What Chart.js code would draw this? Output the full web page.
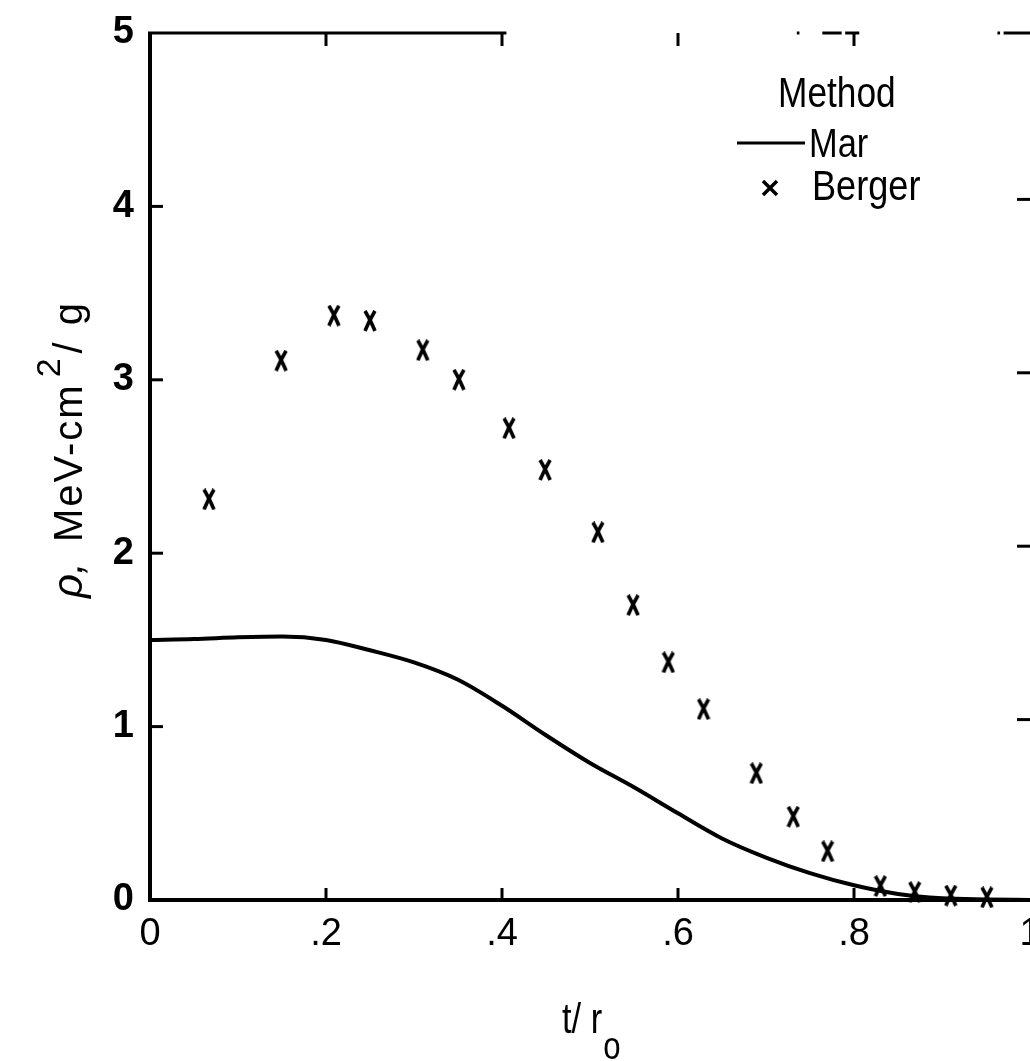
<!DOCTYPE html>
<html>
<head>
<meta charset="utf-8">
<script src="https://cdn.jsdelivr.net/npm/chart.js@4/dist/chart.umd.min.js"></script>
<style>
  html, body { margin: 0; padding: 0; background: #fff; }
  #c { display: block; }
</style>
</head>
<body>
<canvas id="c" width="1030" height="1061"></canvas>
<script>
// ---------------- DATA ----------------
const xTickValues = [0, 0.2, 0.4, 0.6, 0.8, 1];
const xTickLabels = ['0', '.2', '.4', '.6', '.8', '1'];
const yTickValues = [0, 1, 2, 3, 4, 5];
const yTickLabels = ['0', '1', '2', '3', '4', '5'];

const seriesNames = ['Mar', 'Berger'];
const legendTitle = 'Method';

// Mar (solid curve)
const marT   = [0, 0.05, 0.1, 0.15, 0.2, 0.25, 0.3, 0.35, 0.4, 0.45, 0.5, 0.55, 0.6, 0.65, 0.7, 0.75, 0.8, 0.85, 0.9, 0.95, 1.0];
const marRho = [1.50, 1.505, 1.515, 1.52, 1.50, 1.44, 1.37, 1.27, 1.12, 0.95, 0.79, 0.65, 0.50, 0.355, 0.245, 0.155, 0.085, 0.035, 0.01, 0.003, 0];

// Berger (x markers)
const bergerT   = [0.067, 0.149, 0.209, 0.25, 0.31, 0.351, 0.408, 0.449, 0.509, 0.549, 0.589, 0.629, 0.689, 0.731, 0.770, 0.83, 0.869, 0.91, 0.951];
const bergerRho = [2.31, 3.11, 3.37, 3.34, 3.17, 3.00, 2.72, 2.48, 2.12, 1.70, 1.37, 1.10, 0.73, 0.48, 0.28, 0.08, 0.045, 0.025, 0.015];

const xTitleMain = 't/ r';
const xTitleSub = 'o';
const yTitleRho = 'ρ,';
const yTitleUnit = 'MeV-cm';
const yTitleSup = '2';
const yTitleTail = '/ g';

// ---------------- STYLE ----------------
const SANS = '"Liberation Sans", Arial, sans-serif';

// Letter-like X marker used for the Berger points
function makeXMarker(w, h, lw) {
  const c = document.createElement('canvas');
  c.width = w; c.height = h;
  const g = c.getContext('2d');
  g.strokeStyle = '#000';
  g.lineWidth = lw;
  g.lineCap = 'butt';
  g.beginPath();
  g.moveTo(2, 1); g.quadraticCurveTo(w / 2 + 1, h / 2, w - 2, h - 1);
  g.moveTo(w - 2, 1); g.quadraticCurveTo(w / 2 - 1, h / 2, 2, h - 1);
  g.stroke();
  return c;
}
const xMarker = makeXMarker(14, 22, 3.6);

// condensed text helper (horizontal squeeze, still real text)
function condText(ctx, txt, x, y, size, sx) {
  ctx.save();
  ctx.translate(x, y);
  ctx.scale(sx, 1);
  ctx.font = size + 'px ' + SANS;
  ctx.fillText(txt, 0, 0);
  const w = ctx.measureText(txt).width * sx;
  ctx.restore();
  return w;
}

const framePlugin = {
  id: 'frame',
  afterDraw(chart) {
    const { ctx, chartArea: a, scales: { x, y } } = chart;
    ctx.save();
    ctx.strokeStyle = '#000';
    ctx.fillStyle = '#000';
    ctx.lineCap = 'butt';

    // left axis
    ctx.lineWidth = 4;
    ctx.beginPath(); ctx.moveTo(a.left, a.top - 1); ctx.lineTo(a.left, a.bottom + 2); ctx.stroke();
    // bottom axis
    ctx.beginPath(); ctx.moveTo(a.left - 2, a.bottom); ctx.lineTo(a.right, a.bottom); ctx.stroke();

    // top border (only partially printed in the original)
    ctx.lineWidth = 3;
    const topSegs = [[0, 0.405], [0.735, 0.738], [0.764, 0.786], [0.790, 0.806], [0.963, 0.966], [0.970, 1.0]];
    topSegs.forEach(([s, e]) => {
      ctx.beginPath();
      ctx.moveTo(x.getPixelForValue(s) - (s === 0 ? 2 : 0), a.top);
      ctx.lineTo(x.getPixelForValue(e), a.top);
      ctx.stroke();
    });

    // inward ticks
    ctx.lineWidth = 3;
    xTickValues.slice(1, -1).forEach(v => {
      const px = x.getPixelForValue(v);
      ctx.beginPath(); ctx.moveTo(px, a.bottom); ctx.lineTo(px, a.bottom - 12); ctx.stroke();
      ctx.beginPath(); ctx.moveTo(px, a.top); ctx.lineTo(px, a.top + 13); ctx.stroke();
    });
    yTickValues.slice(1, -1).forEach(v => {
      const py = y.getPixelForValue(v);
      ctx.beginPath(); ctx.moveTo(a.left, py); ctx.lineTo(a.left + 13, py); ctx.stroke();
      ctx.beginPath(); ctx.moveTo(a.right, py - 7); ctx.lineTo(a.right - 13, py - 7); ctx.stroke();
    });

    // ---- legend ----
    ctx.textBaseline = 'alphabetic';
    ctx.textAlign = 'left';
    condText(ctx, legendTitle, 778, 107, 42, 0.84);
    // Mar entry
    ctx.lineWidth = 3;
    ctx.beginPath(); ctx.moveTo(737, 143); ctx.lineTo(805, 143); ctx.stroke();
    condText(ctx, seriesNames[0], 809, 157, 40, 0.86);
    // Berger entry
    ctx.lineWidth = 3.5;
    ctx.beginPath();
    ctx.moveTo(763, 181); ctx.lineTo(777, 195);
    ctx.moveTo(777, 181); ctx.lineTo(763, 195);
    ctx.stroke();
    condText(ctx, seriesNames[1], 812, 200, 42, 0.86);

    // ---- x title ----
    const w = condText(ctx, xTitleMain, 562, 1033, 42, 0.82);
    condText(ctx, xTitleSub, 562 + w + 1, 1059, 38, 0.82);

    // ---- y title (rotated) ----
    ctx.translate(82, 0);
    ctx.rotate(-Math.PI / 2);
    ctx.font = 'italic 42px ' + SANS;
    ctx.fillText(yTitleRho, -598, 0);
    let u = -542;
    ctx.font = '40px ' + SANS;
    if ('letterSpacing' in ctx) ctx.letterSpacing = '2px';
    ctx.fillText(yTitleUnit, u, 0);
    u += ctx.measureText(yTitleUnit).width + 6;
    if ('letterSpacing' in ctx) ctx.letterSpacing = '0px';
    ctx.font = '34px ' + SANS;
    ctx.fillText(yTitleSup, u, -22);
    u += ctx.measureText(yTitleSup).width + 5;
    ctx.font = '40px ' + SANS;
    if ('letterSpacing' in ctx) ctx.letterSpacing = '3px';
    ctx.fillText(yTitleTail, u, 0);

    ctx.restore();
  }
};

new Chart(document.getElementById('c').getContext('2d'), {
  type: 'scatter',
  data: {
    datasets: [
      {
        label: seriesNames[0],
        data: marT.map((t, i) => ({ x: t, y: marRho[i] })),
        showLine: true,
        borderColor: '#000',
        borderWidth: 4,
        pointRadius: 0,
        cubicInterpolationMode: 'monotone',
        fill: false
      },
      {
        label: seriesNames[1],
        data: bergerT.map((t, i) => ({ x: t, y: bergerRho[i] })),
        showLine: false,
        pointStyle: xMarker,
        pointRadius: 10,
        borderColor: '#000',
        backgroundColor: '#000'
      }
    ]
  },
  options: {
    responsive: false,
    animation: false,
    devicePixelRatio: 1,
    clip: false,
    layout: { autoPadding: false, padding: { top: 33, right: 0, left: 0, bottom: 0 } },
    plugins: { legend: { display: false }, tooltip: { enabled: false } },
    scales: {
      x: {
        type: 'linear', min: 0, max: 1,
        grid: { display: false, drawTicks: false },
        border: { display: false },
        afterBuildTicks: s => { s.ticks = xTickValues.map(v => ({ value: v })); },
        ticks: {
          callback: (v, i) => xTickLabels[i],
          font: { family: SANS, size: 38 },
          color: '#000', padding: 12, maxRotation: 0, autoSkip: false
        },
        afterFit: s => { s.height = 161; s.paddingLeft = 0; s.paddingRight = 0; }
      },
      y: {
        type: 'linear', min: 0, max: 5,
        grid: { display: false, drawTicks: false },
        border: { display: false },
        afterBuildTicks: s => { s.ticks = yTickValues.map(v => ({ value: v })); },
        ticks: {
          callback: (v, i) => yTickLabels[i],
          font: { family: SANS, size: 38, weight: 'bold' },
          color: '#000', padding: 16, autoSkip: false
        },
        afterFit: s => { s.width = 150; s.paddingTop = 0; s.paddingBottom = 0; }
      }
    }
  },
  plugins: [framePlugin]
});
</script>
</body>
</html>
